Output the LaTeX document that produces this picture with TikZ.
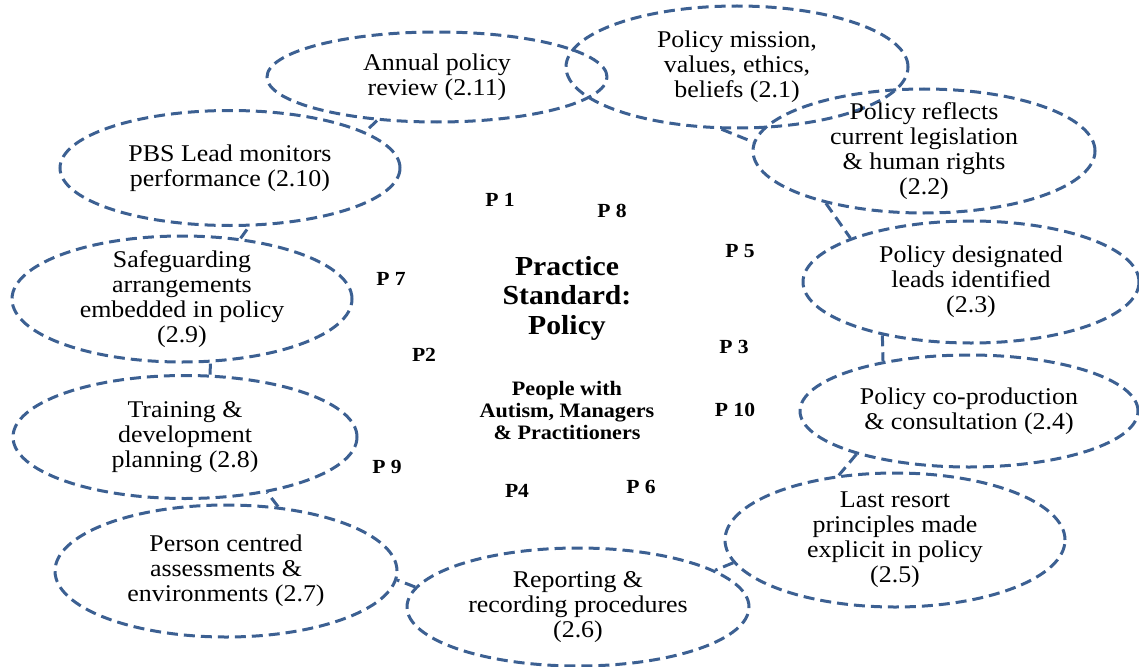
\documentclass[tikz,border=0pt]{standalone}
\usepackage{fontspec}
\setmainfont{Liberation Serif}[FakeStretch=1.08]
\usepackage{xcolor}
\usepackage{tikz}
\usetikzlibrary{shapes.geometric}
\definecolor{ringblue}{RGB}{60,96,146}

\begin{document}
\begin{tikzpicture}
[x=1pt,y=-1pt,
ring/.style={ellipse,draw=ringblue,line width=3pt,dash pattern=on 11pt off 6pt,inner xsep=0pt,inner ysep=-10pt,align=center,font=\fontsize{24}{25}\selectfont},
link/.style={draw=ringblue,line width=3pt,dash pattern=on 11pt off 6pt},
title/.style={align=center,font=\fontsize{27.5}{29.5}\selectfont\bfseries},
who/.style={align=center,font=\fontsize{20.5}{22}\selectfont\bfseries},
pnum/.style={font=\fontsize{20}{22}\selectfont\bfseries}]

\useasboundingbox (0,0) rectangle (1139,666);

\node at (437,77)  [ring,minimum width=340pt,minimum height=90pt]  (ann) {Annual policy\\review (2.11)};
\node at (737,67)  [ring,minimum width=342pt,minimum height=122pt] (mis) {Policy mission,\\values, ethics,\\beliefs (2.1)};
\node at (924,151) [ring,minimum width=342pt,minimum height=124pt] (ref) {Policy reflects\\current legislation\\\& human rights\\(2.2)};
\node at (971,282) [ring,minimum width=336pt,minimum height=122pt] (des) {Policy designated\\leads identified\\(2.3)};
\node at (969,411) [ring,minimum width=338pt,minimum height=112pt] (cop) {Policy co-production\\\& consultation (2.4)};
\node at (895,540) [ring,minimum width=340pt,minimum height=134pt] (las) {Last resort\\principles made\\explicit in policy\\(2.5)};
\node at (578,607) [ring,minimum width=342pt,minimum height=118pt] (rep) {Reporting \&\\recording procedures\\(2.6)};
\node at (226,571) [ring,minimum width=342pt,minimum height=132pt] (per) {Person centred\\assessments \&\\environments (2.7)};
\node at (185,437) [ring,minimum width=344pt,minimum height=123pt] (tra) {Training \&\\development\\planning (2.8)};
\node at (182,299) [ring,minimum width=340pt,minimum height=126pt] (saf) {Safeguarding\\arrangements\\embedded in policy\\(2.9)};
\node at (230,168) [ring,minimum width=340pt,minimum height=115pt] (pbs) {PBS Lead monitors\\performance (2.10)};

\draw [link] (ann.216) -- (pbs.15);
\draw [link] (mis.256) -- (ref.177);
\draw [link] (ref.208) -- (des.160);
\draw [link] (des.211) -- (cop.150);
\draw [link] (cop.201) -- (las.131);
\draw [link] (las.188) -- (rep.15);
\draw [link] (rep.173) -- (per.357);
\draw [link] (per.51)  -- (tra.326);
\draw [link] (tra.68)  -- (saf.294);
\draw [link] (saf.46)  -- (pbs.288);

\node at (567,298) [title] (std) {Practice\\Standard:\\Policy};
\node at (567,410) [who]   (ppl) {People with\\Autism, Managers\\\& Practitioners};

\node at (500,200) [pnum] (p1)  {P 1};
\node at (612,211) [pnum] (p8)  {P 8};
\node at (740,251) [pnum] (p5)  {P 5};
\node at (391,279) [pnum] (p7)  {P 7};
\node at (424,355) [pnum] (p2)  {P2};
\node at (734,347) [pnum] (p3)  {P 3};
\node at (735,410) [pnum] (p10) {P 10};
\node at (387,467) [pnum] (p9)  {P 9};
\node at (517,491) [pnum] (p4)  {P4};
\node at (641,487) [pnum] (p6)  {P 6};
\end{tikzpicture}
\end{document}
